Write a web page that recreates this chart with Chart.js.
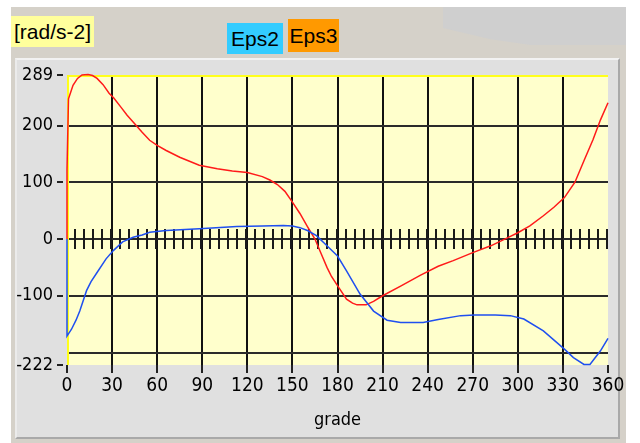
<!DOCTYPE html>
<html>
<head>
<meta charset="utf-8">
<script src="https://cdn.jsdelivr.net/npm/chart.js@4/dist/chart.umd.min.js"></script>
<style>
  html, body { margin: 0; padding: 0; background: #ffffff; }
  #page { position: relative; width: 640px; height: 443px; overflow: hidden; background: #ffffff; }
  #frame { position: absolute; left: 11px; top: 7px; width: 615px; height: 436px; background: #d5d1c9; }
  #shade { position: absolute; left: 443px; top: 7px; width: 183px; height: 38px; background: #cfcfcf;
           clip-path: polygon(0 0, 100% 0, 100% 100%, 48% 100%, 26% 85%, 0 55%); }
  #panel { position: absolute; left: 15px; top: 58px; width: 605px; height: 381px; background: #e0e0e0;
           border-top: 2px solid #f2f2f2; border-left: 2px solid #ebebeb;
           border-right: 2px solid #a9a9a9; border-bottom: 2px solid #a9a9a9; box-sizing: border-box; }
  #unit { position: absolute; left: 11px; top: 16px; width: 83px; height: 31px; background: #ffff9c;
          font: 21px "Liberation Sans", Arial, sans-serif; color: #000; line-height: 31px; text-align: center; }
  .key { position: absolute; font: 21px "Liberation Sans", Arial, sans-serif; color: #000; text-align: center; }
  canvas { position: absolute; left: 0; top: 0; }
</style>
</head>
<body>
<div id="page">
  <div id="frame"></div>
  <div id="shade"></div>
  <div id="panel"></div>
  <div id="unit">[rad/s-2]</div>
  <div id="legend"></div>
  <canvas id="c" width="640" height="443"></canvas>
</div>
<script>
// Angular acceleration over one crank revolution
const eps2Deg = [0, 0, 3, 6, 8.5, 13, 16, 20, 26, 31, 37, 44, 50, 55, 66, 88, 113, 130, 144, 150, 155, 160, 166, 173, 180, 186, 195, 204, 213, 222, 237, 247, 262, 271, 285, 295, 304, 317, 331, 337, 344, 348, 355, 360];
const eps2Val = [0, -171, -159, -143, -127, -91, -75, -59, -35, -20, -5, 3, 7, 12, 15, 18, 22, 23, 24, 23, 20, 15, 6, -12, -30, -56, -97, -127, -143, -147, -147, -142, -135, -134, -134, -135, -141, -162, -194, -209, -221, -221, -197, -175];

const eps3Deg = [0, 0, 1, 4, 7, 10, 14, 17, 20, 24, 28, 31, 36, 40, 44, 50, 55, 60, 66, 75, 88, 100, 110, 120, 130, 135, 140, 145, 150, 155, 160, 165, 169, 173, 176, 180, 186, 190, 193, 199, 204, 210, 222, 235, 247, 257, 270, 282, 293, 300, 308, 317, 324, 331, 338, 344, 350, 355, 360];
const eps3Val = [0, 122, 247, 271, 283, 289, 290, 288, 283, 272, 257, 249, 232, 218, 206, 188, 174, 165, 156, 144, 130, 124, 120, 117, 110, 104, 96, 84, 65, 45, 22, 0, -25, -50, -66, -82, -106, -113, -116, -116, -110, -100, -83, -64, -48, -38, -24, -12, 2, 11, 23, 41, 56, 73, 100, 138, 175, 210, 240];

const seriesNames = ['Eps2', 'Eps3'];
const seriesColors = ['#1f4ff0', '#ff1a1a'];
const keyColors = ['#33ccff', '#ff9900'];

const xTickValues = [0, 30, 60, 90, 120, 150, 180, 210, 240, 270, 300, 330, 360];
const yTickLabels = [-222, -100, 0, 100, 200, 289];
const yGridValues = [-200, -100, 0, 100, 200];
const yMin = -222, yMax = 289;
const xLabel = 'grade';

// HTML key boxes
const keyBoxes = [
  { left: 227, top: 23, width: 56, height: 31 },
  { left: 288, top: 19, width: 51, height: 33 }
];
const legend = document.getElementById('legend');
seriesNames.forEach((n, i) => {
  const d = document.createElement('div');
  d.className = 'key';
  const b = keyBoxes[i];
  Object.assign(d.style, { left: b.left + 'px', top: b.top + 'px', width: b.width + 'px', height: b.height + 'px',
    lineHeight: b.height + 'px', background: keyColors[i] });
  d.textContent = n;
  legend.appendChild(d);
});

const toPoints = (xs, ys) => xs.map((x, i) => ({ x, y: ys[i] }));

const plotDecor = {
  id: 'plotDecor',
  beforeDraw(chart) {
    const { ctx, chartArea: a } = chart;
    ctx.save();
    ctx.fillStyle = '#ffffcc';
    ctx.fillRect(a.left, a.top, a.right - a.left, a.bottom - a.top);
    ctx.restore();
  },
  beforeDatasetsDraw(chart) {
    const { ctx, chartArea: a, scales } = chart;
    const xs = scales.x, ys = scales.y;
    ctx.save();
    // yellow frame on top and left
    ctx.strokeStyle = '#ffff1a';
    ctx.lineWidth = 2;
    ctx.beginPath();
    ctx.moveTo(a.left, a.top + 1); ctx.lineTo(a.right, a.top + 1);
    ctx.moveTo(a.left + 1, a.top); ctx.lineTo(a.left + 1, a.bottom);
    ctx.stroke();
    // small marks across the zero line every 6 degrees
    const y0 = ys.getPixelForValue(0);
    ctx.strokeStyle = '#1a1a1a';
    ctx.lineWidth = 2;
    ctx.beginPath();
    for (let d = 6; d <= 360; d += 6) {
      const px = Math.round(xs.getPixelForValue(d)) - 1;
      ctx.moveTo(px, y0 - 10); ctx.lineTo(px, y0 + 10);
    }
    ctx.stroke();
    ctx.restore();
  }
};

const tickFont = { family: '"Liberation Sans Narrow", "DejaVu Sans Condensed", sans-serif', size: 18 };

new Chart(document.getElementById('c'), {
  type: 'line',
  data: {
    datasets: [
      { label: seriesNames[0], data: toPoints(eps2Deg, eps2Val), borderColor: seriesColors[0], borderWidth: 1.5,
        pointRadius: 0, tension: 0, fill: false, clip: 3 },
      { label: seriesNames[1], data: toPoints(eps3Deg, eps3Val), borderColor: seriesColors[1], borderWidth: 1.5,
        pointRadius: 0, tension: 0, fill: false, clip: 3 }
    ]
  },
  options: {
    responsive: false,
    animation: false,
    layout: { padding: { left: 0, top: 75, right: 32, bottom: 0 } },
    plugins: { legend: { display: false }, tooltip: { enabled: false } },
    scales: {
      x: {
        type: 'linear', min: 0, max: 360,
        afterBuildTicks: s => { s.ticks = xTickValues.map(v => ({ value: v })); },
        afterFit: s => { s.height = 78; },
        ticks: { color: '#000', font: { ...tickFont, size: 19 }, padding: 2, maxRotation: 0, autoSkip: false },
        grid: {
          lineWidth: 2,
          color: c => (c.tick && (c.tick.value === 0 || c.tick.value === 360)) ? 'rgba(0,0,0,0)' : '#111',
          tickColor: '#222', tickLength: 8, drawOnChartArea: true
        },
        border: { display: false },
        title: { display: true, text: xLabel, color: '#000', font: tickFont, padding: { top: 0, bottom: 12 } }
      },
      y: {
        type: 'linear', min: yMin, max: yMax,
        afterBuildTicks: s => {
          const vals = [...new Set([...yTickLabels, ...yGridValues])].sort((a, b) => a - b);
          s.ticks = vals.map(v => ({ value: v }));
        },
        afterFit: s => { s.width = 67; },
        ticks: {
          color: '#000', font: tickFont, padding: 4, autoSkip: false,
          callback: v => yTickLabels.includes(v) ? String(v) : ''
        },
        grid: {
          lineWidth: 2,
          color: c => (c.tick && yGridValues.includes(c.tick.value)) ? '#2a2a2a' : 'rgba(0,0,0,0)',
          tickColor: c => (c.tick && yTickLabels.includes(c.tick.value)) ? '#222' : 'rgba(0,0,0,0)',
          tickLength: 10, tickBorderDash: [6, 4]
        },
        border: { display: false }
      }
    }
  },
  plugins: [plotDecor]
});
</script>
</body>
</html>
